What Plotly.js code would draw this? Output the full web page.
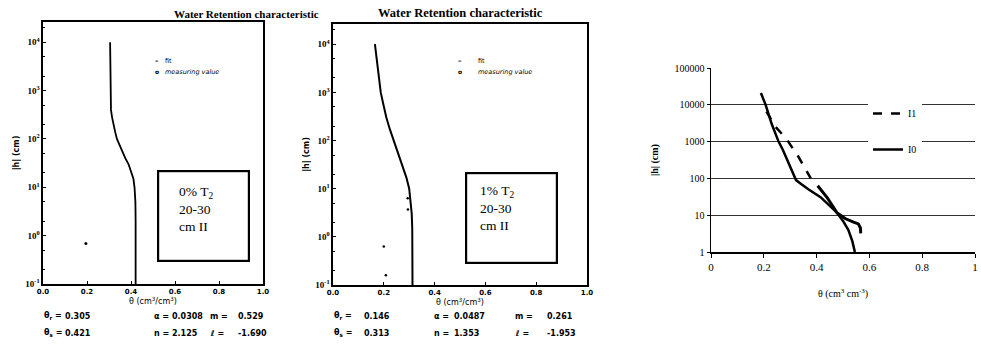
<!DOCTYPE html>
<html>
<head>
<meta charset="utf-8">
<script src="https://cdn.plot.ly/plotly-3.0.1.min.js"></script>
<style>html,body{margin:0;padding:0;background:#fff;}#chart{width:981px;height:347px;}</style>
</head>
<body>
<div id="chart"></div>
<script>
// ---------- data ----------
// Panel 1 : 0% T2, 20-30 cm II  (fit curve)
const fit1Theta = [0.305, 0.306, 0.309, 0.314, 0.320, 0.328, 0.336, 0.356, 0.374, 0.389, 0.404, 0.411, 0.416, 0.420, 0.421, 0.421];
const fit1H     = [10000, 1000, 400, 280, 200, 140, 100, 60, 40, 30, 20, 15, 10, 5, 2, 0.1];
const meas1Theta = [0.195];
const meas1H     = [0.69];

// Panel 2 : 1% T2, 20-30 cm II  (fit curve)
const fit2Theta = [0.165, 0.176, 0.188, 0.197, 0.210, 0.224, 0.239, 0.255, 0.275, 0.289, 0.300, 0.307, 0.310, 0.312, 0.313, 0.313];
const fit2H     = [10000, 3000, 1000, 600, 300, 170, 100, 55, 30, 17, 10, 5, 3, 1.5, 0.5, 0.1];
const meas2Theta = [0.200, 0.208, 0.294, 0.295];
const meas2H     = [0.63, 0.16, 6.3, 3.7];

// Panel 3 : I0 and I1 retention curves
const i0Theta = [0.189, 0.207, 0.230, 0.256, 0.272, 0.295, 0.322, 0.340, 0.370, 0.415, 0.450, 0.478, 0.500, 0.520, 0.535, 0.545];
const i0H     = [21000, 10000, 3000, 1000, 600, 250, 90, 72, 50, 31, 18, 11.5, 7, 4, 2, 1];
const i1UpperTheta = [0.210, 0.245, 0.285, 0.330, 0.378];
const i1UpperH     = [6500, 2500, 1200, 400, 100];
const i1LowerTheta = [0.404, 0.440, 0.478, 0.510, 0.540, 0.558, 0.566, 0.567];
const i1LowerH     = [63, 30, 11.5, 8, 6.5, 5.8, 4.5, 3.2];

// ticks
const xTickVals   = [0, 0.2, 0.4, 0.6, 0.8, 1.0];
const xTickText12 = ['0.0', '0.2', '0.4', '0.6', '0.8', '1.0'];
const xTickText3  = ['0', '0.2', '0.4', '0.6', '0.8', '1'];
const yTickVals12 = [0.1, 1, 10, 100, 1000, 10000];
const yTickText12 = ['10<sup>-1</sup>', '10<sup>0</sup>', '10<sup>1</sup>', '10<sup>2</sup>', '10<sup>3</sup>', '10<sup>4</sup>'];
const yTickVals3  = [1, 10, 100, 1000, 10000, 100000];
const yTickText3  = ['1', '10', '100', '1000', '10000', '100000'];

// fitted parameters printed under panels
const paramNames1 = ['θ<sub>r</sub> =', 'α =', 'm =', 'θ<sub>s</sub> =', 'n =', 'ℓ ='];
const panel1Params = ['0.305', '0.0308', '0.529', '0.421', '2.125', '-1.690'];
const panel2Params = ['0.146', '0.0487', '0.261', '0.313', '1.353', '-1.953'];
const boxText1 = '0% T<sub>2</sub><br>20-30<br>cm II';
const boxText2 = '1% T<sub>2</sub><br>20-30<br>cm II';
const panelTitle = 'Water Retention characteristic';

// ---------- helpers ----------
const W = 981, H = 347;
const px = x => x / W;
const py = y => 1 - y / H;
const serif = 'Liberation Serif, Times New Roman, serif';
const sans = 'DejaVu Sans, Arial, sans-serif';

const traces = [
  {x: fit1Theta, y: fit1H, xaxis: 'x', yaxis: 'y', mode: 'lines', line: {color: '#000', width: 1.8}, showlegend: false, name: 'fit'},
  {x: meas1Theta, y: meas1H, xaxis: 'x', yaxis: 'y', mode: 'markers', marker: {color: '#000', size: 3}, showlegend: false, name: 'measuring value'},
  {x: fit2Theta, y: fit2H, xaxis: 'x2', yaxis: 'y2', mode: 'lines', line: {color: '#000', width: 2}, showlegend: false, name: 'fit'},
  {x: meas2Theta, y: meas2H, xaxis: 'x2', yaxis: 'y2', mode: 'markers', marker: {color: '#000', size: 2.5}, showlegend: false, name: 'measuring value'},
  {x: i1UpperTheta, y: i1UpperH, xaxis: 'x3', yaxis: 'y3', mode: 'lines', line: {color: '#000', width: 2.5, dash: 'dash'}, name: 'I1', legend: 'legend'},
  {x: i1LowerTheta, y: i1LowerH, xaxis: 'x3', yaxis: 'y3', mode: 'lines', line: {color: '#000', width: 3}, name: 'I1', showlegend: false},
  {x: i0Theta, y: i0H, xaxis: 'x3', yaxis: 'y3', mode: 'lines', line: {color: '#000', width: 2.5}, name: 'I0', legend: 'legend2'}
];

const smallTick = {family: sans, size: 7, color: '#000', weight: 'bold'};
function panelX(domain, title) {
  return {domain: domain, range: [0, 1], tickvals: xTickVals, ticktext: xTickText12, tickfont: smallTick,
    showline: true, linecolor: '#000', linewidth: 1.6, mirror: true, ticks: 'inside', ticklen: 3, tickcolor: '#000',
    showgrid: false, zeroline: false, title: {text: title, font: {family: sans, size: 8, color: '#000'}, standoff: 0}};
}
function panelY(domain, anchor) {
  return {domain: domain, type: 'log', range: [-1, 4.42], tickvals: yTickVals12, ticktext: yTickText12, tickfont: {family: serif, size: 9, color: '#000', weight: 'bold'},
    showline: true, linecolor: '#000', linewidth: 1.6, mirror: true, ticks: 'inside', ticklen: 3, tickcolor: '#000',
    minor: {ticks: 'inside', ticklen: 2, tickcolor: '#000', showgrid: false},
    showgrid: false, zeroline: false, anchor: anchor,
    title: {text: '|h| (cm)', font: {family: sans, size: 8, color: '#000', weight: 'bold'}, standoff: 4}};
}

const annotations = [];
// panel titles
annotations.push({xref: 'paper', yref: 'paper', x: px(172), y: py(14), yanchor: 'middle', text: '<b>' + panelTitle + '</b>', showarrow: false, font: {family: serif, size: 11, color: '#000'}});
annotations.push({xref: 'paper', yref: 'paper', x: px(460), y: py(13), yanchor: 'middle', text: '<b>' + panelTitle + '</b>', showarrow: false, font: {family: serif, size: 12.5, color: '#000'}});
// boxes
[[203, 216, boxText1, 177, 209], [511.5, 217.5, boxText2, 478, 208]].forEach(b => {
  annotations.push({xref: 'paper', yref: 'paper', x: px(b[0]), y: py(b[1]), xanchor: 'center', yanchor: 'middle', text: '&nbsp;', showarrow: false,
    width: 89, height: 88, bordercolor: '#000', borderwidth: 2.2, borderpad: 0});
  annotations.push({xref: 'paper', yref: 'paper', x: px(b[3]), y: py(b[4]), xanchor: 'left', yanchor: 'middle', align: 'left', text: b[2], showarrow: false,
    font: {family: serif, size: 13.5, color: '#000'}});
});
// mini legends of panels 1 and 2
[[153, 163], [460, 476]].forEach(l => {
  annotations.push({xref: 'paper', yref: 'paper', x: px(l[0]), y: py(61), yanchor: 'middle', text: '<b>–</b>', showarrow: false, font: {family: sans, size: 7, color: '#000'}});
  annotations.push({xref: 'paper', yref: 'paper', x: px(l[1]), y: py(61), yanchor: 'middle', xanchor: 'left', text: 'fit', showarrow: false, font: {family: sans, size: 6.5, color: '#000'}});
  annotations.push({xref: 'paper', yref: 'paper', x: px(l[0]), y: py(72), yanchor: 'middle', text: '<b>o</b>', showarrow: false, font: {family: sans, size: 6, color: '#000'}});
  annotations.push({xref: 'paper', yref: 'paper', x: px(l[1]), y: py(72), yanchor: 'middle', xanchor: 'left', text: '<i>measuring value</i>', showarrow: false, font: {family: sans, size: 6.5, color: '#000'}});
});
// parameter rows
function paramRows(vals, cols, valCols) {
  const rowsY = [316, 333];
  for (let i = 0; i < 6; i++) {
    const r = Math.floor(i / 3), c = i % 3;
    annotations.push({xref: 'paper', yref: 'paper', x: px(cols[c]), y: py(rowsY[r]), xanchor: 'left', yanchor: 'middle', text: '<b>' + paramNames1[i] + '</b>', showarrow: false, font: {family: sans, size: 8, color: '#000'}});
    annotations.push({xref: 'paper', yref: 'paper', x: px(valCols[c]), y: py(rowsY[r]), xanchor: 'left', yanchor: 'middle', text: '<b>' + vals[i] + '</b>', showarrow: false, font: {family: sans, size: 8, color: '#000'}});
  }
}
paramRows(panel1Params, [42, 152, 208], [63, 170, 236]);
paramRows(panel2Params, [332, 432, 513], [362, 452, 545]);

const layout = {
  width: W, height: H, margin: {l: 0, r: 0, t: 0, b: 0}, paper_bgcolor: '#fff', plot_bgcolor: '#fff',
  showlegend: true,
  xaxis: panelX([px(43), px(263)], 'θ (cm<sup>3</sup>/cm<sup>3</sup>)'),
  yaxis: panelY([1 - 284 / H, 1 - 22 / H], 'x'),
  xaxis2: Object.assign(panelX([px(333), px(587)], 'θ (cm<sup>3</sup>/cm<sup>3</sup>)'), {anchor: 'y2'}),
  yaxis2: panelY([1 - 285 / H, 1 - 24 / H], 'x2'),
  xaxis3: {domain: [px(711), px(975)], range: [0, 1], anchor: 'y3', tickvals: xTickVals, ticktext: xTickText3,
    tickfont: {family: serif, size: 11, color: '#000'}, showline: true, linecolor: '#000', linewidth: 1.5,
    ticks: 'outside', ticklen: 4, tickcolor: '#000', showgrid: false, zeroline: false,
    title: {text: 'θ (cm<sup>3</sup> cm<sup>-3</sup>)', font: {family: serif, size: 10, color: '#000'}, standoff: 18}},
  yaxis3: {domain: [1 - 252 / H, 1 - 68 / H], type: 'log', range: [0, 5], anchor: 'x3', tickvals: yTickVals3, ticktext: yTickText3,
    tickfont: {family: serif, size: 10, color: '#000'}, showline: true, linecolor: '#000', linewidth: 1.5,
    ticks: 'outside', ticklen: 3, tickcolor: '#000', showgrid: true, gridcolor: '#333', gridwidth: 1, zeroline: false,
    title: {text: '<b>|h| (cm)</b>', font: {family: serif, size: 10, color: '#000'}, standoff: 14}},
  legend: {x: px(868), y: py(99), xanchor: 'left', yanchor: 'top', bgcolor: '#fff', borderwidth: 0,
    font: {family: serif, size: 10, color: '#000'}, itemwidth: 30, tracegroupgap: 0},
  legend2: {x: px(868), y: py(135), xanchor: 'left', yanchor: 'top', bgcolor: '#fff', borderwidth: 0,
    font: {family: serif, size: 10, color: '#000'}, itemwidth: 30, tracegroupgap: 0},
  annotations: annotations
};

Plotly.newPlot('chart', traces, layout, {displayModeBar: false, staticPlot: true});
</script>
</body>
</html>
